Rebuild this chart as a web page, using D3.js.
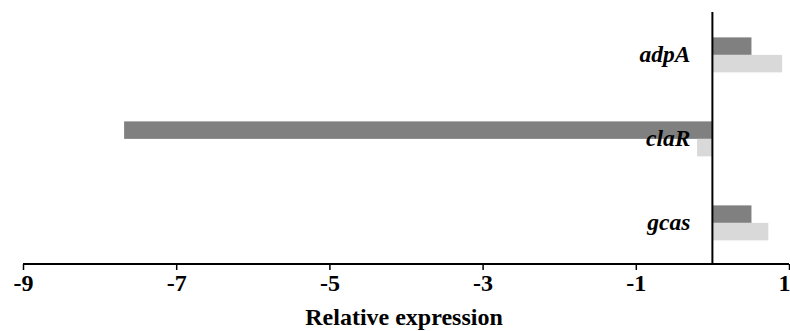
<!DOCTYPE html>
<html>
<head>
<meta charset="utf-8">
<script src="https://cdn.jsdelivr.net/npm/d3@7"></script>
<style>
  body { margin: 0; background: #fff; }
  svg text { font-family: "Liberation Serif", "Times New Roman", serif; font-weight: bold; }
</style>
</head>
<body>
<div id="chart"></div>
<script>
// gene names, top to bottom
var genes = ["adpA", "claR", "gcas"];
// two series per gene (dark bar on top, light bar below)
var seriesDark = [0.51, -7.68, 0.51];
var seriesLight = [0.91, -0.2, 0.73];
var tickValues = [-9, -7, -5, -3, -1, 1];

var width = 790, height = 331;
var margin = { top: 12, right: 1, bottom: 67, left: 23 };

var svg = d3.select("#chart")
  .append("svg")
  .attr("width", width)
  .attr("height", height);

var x = d3.scaleLinear()
  .domain([-9, 1])
  .range([margin.left, width - margin.right]);

var y = d3.scaleBand()
  .domain(genes)
  .range([margin.top, height - margin.bottom]);

// inner band for the two bars of a gene
var barH = 17.5;
var groupTop = function (g) { return y(g) + y.bandwidth() / 2 - barH * 0.95; };

var series = [
  { values: seriesDark, color: "#808080", offset: 0 },
  { values: seriesLight, color: "#d9d9d9", offset: 1 }
];

series.forEach(function (s) {
  svg.append("g")
    .selectAll("rect")
    .data(genes)
    .enter()
    .append("rect")
    .attr("x", function (d, i) { return Math.min(x(0), x(s.values[i])); })
    .attr("width", function (d, i) { return Math.abs(x(s.values[i]) - x(0)); })
    .attr("y", function (d) { return groupTop(d) + s.offset * barH; })
    .attr("height", barH)
    .attr("fill", s.color);
});

// x axis
var xAxis = svg.append("g")
  .attr("transform", "translate(0," + (height - margin.bottom) + ")")
  .call(d3.axisBottom(x).tickValues(tickValues).tickSize(6).tickPadding(6).tickFormat(d3.format("d")));

xAxis.select(".domain").attr("stroke", "#000").attr("stroke-width", 2)
  .attr("d", "M" + x(-9) + ",0H" + x(1));
xAxis.selectAll(".tick line").attr("stroke", "#000").attr("stroke-width", 1.5);
xAxis.selectAll(".tick text")
  .attr("fill", "#000")
  .attr("dy", null)
  .attr("y", 27)
  .style("font-size", "24px")
  .style("font-family", "'Liberation Serif', serif")
  .style("font-weight", "bold")
  .text(function (d) { return d < 0 ? "-" + Math.abs(d) : d; });
// last label sits at the right edge of the window
xAxis.selectAll(".tick text")
  .filter(function (d) { return d === 1; })
  .attr("text-anchor", "end")
  .attr("x", 1);

// vertical zero line
svg.append("line")
  .attr("x1", x(0)).attr("x2", x(0))
  .attr("y1", margin.top).attr("y2", height - margin.bottom)
  .attr("stroke", "#000")
  .attr("stroke-width", 2);

// gene labels
svg.append("g")
  .selectAll("text")
  .data(genes)
  .enter()
  .append("text")
  .attr("x", x(0) - 22)
  .attr("y", function (d) { return y(d) + y.bandwidth() / 2 + 8; })
  .attr("text-anchor", "end")
  .style("font-size", "23.5px")
  .style("font-style", "italic")
  .text(function (d) { return d; });

// axis title
svg.append("text")
  .attr("x", 404)
  .attr("y", 325)
  .attr("text-anchor", "middle")
  .style("font-size", "24px")
  .text("Relative expression");
</script>
</body>
</html>
